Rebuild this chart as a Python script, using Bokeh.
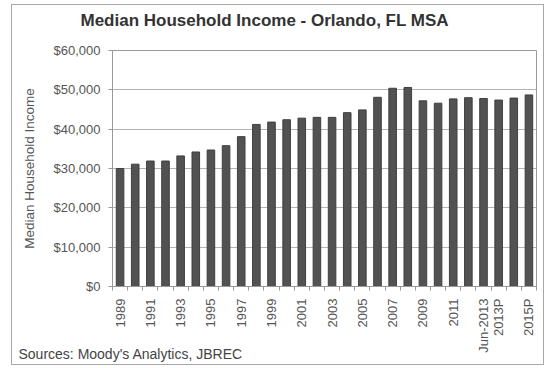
from bokeh.plotting import figure
from bokeh.models import FixedTicker, NumeralTickFormatter, Range1d, ColumnDataSource, Title
from bokeh.embed import file_html
from bokeh.resources import INLINE

categories = ["1989", "1990", "1991", "1992", "1993", "1994", "1995", "1996", "1997", "1998",
              "1999", "2000", "2001", "2002", "2003", "2004", "2005", "2006", "2007", "2008",
              "2009", "2010", "2011", "2012", "Jun-2013", "2013P", "2014P", "2015P"]
income = [30000, 31100, 31900, 31900, 33200, 34200, 34700, 35800, 38100, 41200,
          41800, 42400, 42800, 43000, 43000, 44200, 44900, 48100, 50400, 50600,
          47200, 46600, 47700, 48000, 47800, 47400, 47900, 48700]
shown_labels = ["1989", "1991", "1993", "1995", "1997", "1999", "2001", "2003", "2005",
                "2007", "2009", "2011", "Jun-2013", "2013P", "2015P"]
y_ticks = [0, 10000, 20000, 30000, 40000, 50000, 60000]

FONT = "Liberation Sans"
GRAY = "#555555"

xs = list(range(len(categories)))
src = ColumnDataSource(dict(x=xs, y=income, cat=categories))

p = figure(width=533, height=361, output_backend="svg", toolbar_location=None,
           x_range=Range1d(-0.5, len(categories) - 0.5), y_range=Range1d(0, 60000),
           min_border_left=100, min_border_right=9, min_border_top=45, min_border_bottom=80,
           margin=(4, 0, 0, 11),
           styles={"border": "1px solid #a8a8a8"})

p.vbar(x="x", top="y", width=0.5, source=src, fill_color="#525252", line_color="#3f3f3f", line_width=1)

# x axis
tick_idx = [categories.index(c) for c in shown_labels]
p.xaxis.ticker = FixedTicker(ticks=tick_idx, minor_ticks=[i - 0.5 for i in range(len(categories) + 1)])
p.xaxis.major_label_overrides = {i: categories[i] for i in tick_idx}
p.xaxis.major_label_orientation = 1.5708
p.xaxis.major_tick_line_color = None
p.xaxis.minor_tick_line_color = "#999999"
p.xaxis.minor_tick_in = 0
p.xaxis.minor_tick_out = 4
p.xaxis.axis_line_color = "#999999"
p.xaxis.major_label_text_font = FONT
p.xaxis.major_label_text_font_size = "13px"
p.xaxis.major_label_text_color = GRAY
p.xaxis.major_label_standoff = 6

# y axis
p.yaxis.ticker = FixedTicker(ticks=y_ticks)
p.yaxis.formatter = NumeralTickFormatter(format="$0,0")
p.yaxis.minor_tick_line_color = None
p.yaxis.major_tick_line_color = "#999999"
p.yaxis.major_tick_in = 0
p.yaxis.major_tick_out = 4
p.yaxis.axis_line_color = "#999999"
p.yaxis.major_label_text_font = FONT
p.yaxis.major_label_text_font_size = "13px"
p.yaxis.major_label_text_color = GRAY
p.yaxis.major_label_standoff = 8
p.yaxis.axis_label = "Median Household Income"
p.yaxis.axis_label_text_font = FONT
p.yaxis.axis_label_text_font_size = "13.5px"
p.yaxis.axis_label_text_font_style = "normal"
p.yaxis.axis_label_text_color = GRAY
p.yaxis.axis_label_standoff = 14

p.xgrid.grid_line_color = None
p.ygrid.grid_line_color = "#b4b4b4"
p.ygrid.grid_line_width = 1
p.outline_line_color = "#999999"
p.outline_line_width = 1

# second (blank) line reserves space between the title and the plot area
p.title.text = "Median Household Income - Orlando, FL MSA\n "
p.title.align = "left"
p.title.offset = -32
p.title.vertical_align = "top"
p.title.text_font = FONT
p.title.text_font_size = "17px"
p.title.text_font_style = "bold"
p.title.text_color = "#333333"
p.title.standoff = 0

src_title = Title(text="Sources: Moody's Analytics, JBREC", align="left", offset=-94,
                  vertical_align="top",
                  text_font=FONT, text_font_size="14px", text_font_style="normal",
                  text_color="#444444", standoff=-20)
p.add_layout(src_title, "below")

open("out.html", "w").write(file_html(p, INLINE))
